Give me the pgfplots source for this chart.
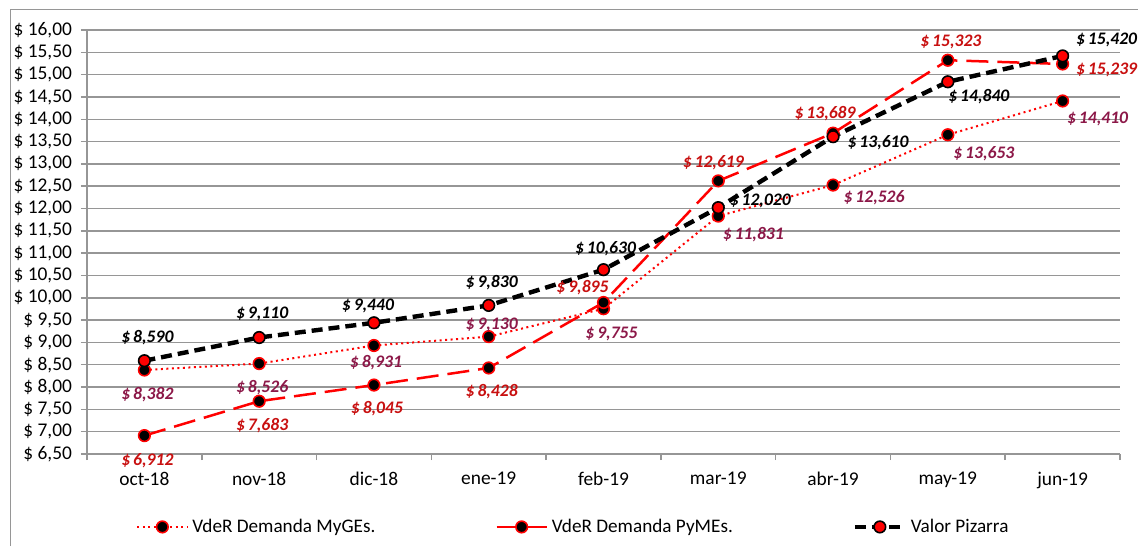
\documentclass[border=0pt]{standalone}
\usepackage{fontspec}
\setmainfont{Carlito}
\usepackage{pgfplots}
\pgfplotsset{compat=1.18}
\usepackage{pgfplotstable}
\definecolor{labred}{RGB}{200,16,16}
\definecolor{labmar}{RGB}{140,24,72}
\definecolor{gridg}{RGB}{150,150,150}

% dx, dy: label offsets in pt (half of reference pixels)
\pgfplotstableread{
x y dx dy
0 8.382 1.5 -12.5
1 8.526 1.5 -12
2 8.931 1 -8.5
3 9.130 1.5 6
4 9.755 4 -12.5
5 11.831 17.5 -9.5
6 12.526 20.5 -6.5
7 13.653 18 -9.5
8 14.410 17.5 -9
}\myges
\pgfplotstableread{
x y dx dy
0 6.912 1.5 -12.5
1 7.683 1.5 -12
2 8.045 1.5 -12
3 8.428 1.5 -12
4 9.895 -10.5 7.5
5 12.619 -2.5 9
6 13.689 -4 10
7 15.323 1.5 9
8 15.239 22 -3
}\pymes
\pgfplotstableread{
x y dx dy
0 8.590 1.5 11.5
1 9.110 1.5 12
2 9.440 -3 8.5
3 9.830 1.5 11.5
4 10.630 1 10.5
5 12.020 21 3.5
6 13.610 22.5 -3
7 14.840 15.5 -7.5
8 15.420 22 8
}\pizarra

\pgfplotsset{
  labels/.style={
    point meta=explicit symbolic,
    nodes near coords={\$\,\pgfmathprintnumber[fixed,fixed zerofill,precision=3,use comma]{\pgfplotspointmeta}},
    visualization depends on={\thisrow{dx}\as\labdx},
    visualization depends on={\thisrow{dy}\as\labdy},
    every node near coord/.append style={anchor=center, xshift=\labdx pt, yshift=\labdy pt,
      font=\fontsize{8.8}{10}\selectfont\bfseries\itshape, text=#1, inner sep=0pt},
  },
  mymarkA/.style={mark=*, mark size=2.9pt, mark options={solid, fill=black, draw=red, line width=0.8pt}},
  mymarkB/.style={mark=*, mark size=2.9pt, mark options={solid, fill=red, draw=black, line width=0.8pt}},
}

\begin{document}
\begin{tikzpicture}
\useasboundingbox (0,0) rectangle (569pt,273pt);
\draw[gridg, line width=0.5pt] (5pt,0) -- (5pt,268pt) -- (569pt,268pt);
\begin{axis}[
  at={(43.5pt,46pt)}, anchor=south west, scale only axis,
  width=516.5pt, height=212pt,
  xmin=-0.5, xmax=8.5, ymin=6.5, ymax=16,
  axis x line*=bottom, axis y line*=left,
  axis line style={gridg, line width=0.75pt},
  xtick={-0.5,0.5,1.5,2.5,3.5,4.5,5.5,6.5,7.5,8.5},
  x tick label as interval,
  xticklabels={oct-18,nov-18,dic-18,ene-19,feb-19,mar-19,abr-19,may-19,jun-19},
  ytick={6.5,7,7.5,8,8.5,9,9.5,10,10.5,11,11.5,12,12.5,13,13.5,14,14.5,15,15.5,16},
  ymajorgrids, grid style={gridg, line width=0.75pt},
  tick align=outside, major tick length=3pt,
  every tick/.style={gridg, line width=0.75pt},
  yticklabel={\$ \pgfmathprintnumber[fixed,fixed zerofill,precision=2,use comma]{\tick}},
  /pgf/number format/assume math mode=true,
  tick label style={font=\fontsize{9.7}{11}\selectfont, text=black},
  xticklabel style={yshift=-2.5pt},
  yticklabel style={xshift=-1pt},
  clip=false,
  legend columns=3,
  legend style={draw=none, at={(0.0474,-0.172)}, anchor=west, inner xsep=0pt,
    font=\fontsize{9.6}{11}\selectfont,
    /tikz/every even column/.append style={column sep=58pt}},
  legend image code/.code={\draw[mark repeat=2,mark phase=2,#1] plot coordinates {(0pt,0pt) (12.5pt,0pt) (25pt,0pt)};},
]
\addlegendimage{red, line width=1pt, dash pattern=on 1pt off 1.75pt, mymarkA}
\addlegendentry{VdeR Demanda MyGEs.}
\addlegendimage{red, line width=1.25pt, mymarkA}
\addlegendentry{VdeR Demanda PyMEs.}
\addlegendimage{black, line width=2pt, dash pattern=on 5.5pt off 3pt, mymarkB}
\addlegendentry{Valor Pizarra}

\addplot[forget plot, red, line width=1pt, dash pattern=on 1pt off 1.75pt, mymarkA, labels=labmar] table[x=x,y=y,meta=y] {\myges};
\addplot[forget plot, red, line width=1.25pt, dash pattern=on 11pt off 4.5pt, mymarkA, labels=labred] table[x=x,y=y,meta=y] {\pymes};
\addplot[forget plot, black, line width=2.2pt, dash pattern=on 5.5pt off 3pt, mymarkB, labels=black] table[x=x,y=y,meta=y] {\pizarra};
\end{axis}
\end{tikzpicture}
\end{document}
